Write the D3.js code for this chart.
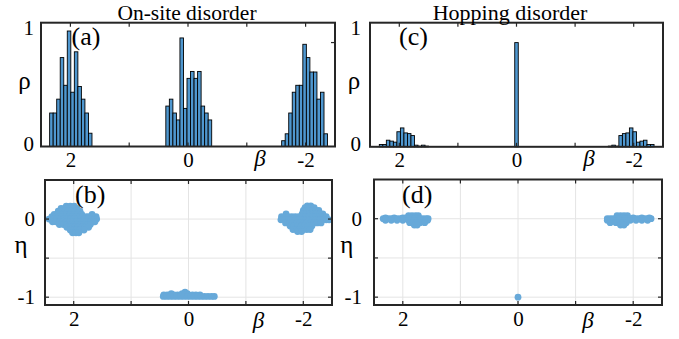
<!DOCTYPE html>
<html>
<head>
<meta charset="utf-8">
<script src="https://cdn.jsdelivr.net/npm/d3@7"></script>
<style>
  body { margin: 0; background: #fff; }
  svg { display: block; }
  text { font-family: "Liberation Serif", "Times New Roman", serif; fill: #000; }
</style>
</head>
<body>
<svg id="chart" width="679" height="339"></svg>
<script>
// ---------- data ----------
// histogram bins share one width; each cluster gives its first bin centre (largest beta) and heights
const binWidth = 0.06;

const onsiteLeftStart = 2.323;
const onsiteLeftHeights = [0.29, 0.29, 0.41, 0.77, 0.53, 1.0, 0.47, 0.82, 0.52, 0.41, 0.29, 0.115];
const onsiteMidStart = 0.347;
const onsiteMidHeights = [0.35, 0.41, 0.29, 0.23, 0.94, 0.33, 0.59, 0.65, 0.59, 0.65, 0.35, 0.29, 0.23];
const onsiteRightStart = -1.623;
const onsiteRightHeights = [0.05, 0.11, 0.29, 0.47, 0.53, 0.53, 0.885, 0.77, 0.645, 0.645, 0.41, 0.47, 0.11];

const hoppingLeftStart = 2.311;
const hoppingLeftHeights = [0.02, 0.02, 0.057, 0.049, 0.04, 0.13, 0.163, 0.12, 0.114, 0.097, 0.014, 0.006, 0.014, 0.006];
const hoppingMidStart = 0.0;
const hoppingMidHeights = [0.9];
const hoppingRightStart = -1.597;
const hoppingRightHeights = [0.006, 0.014, 0.006, 0.097, 0.114, 0.12, 0.163, 0.13, 0.04, 0.049, 0.057, 0.02, 0.02];

// eigenvalues (beta, eta), grouped in rows of similar eta: [eta, [beta, ...]]
const onsitePointsLeft = [
  [0.165, [2.13, 2.06, 1.99]],
  [0.135, [2.22, 2.16, 2.11, 2.05, 2.01, 1.94]],
  [0.10, [2.27, 2.21, 2.16, 2.1, 2.04, 1.98, 1.92, 1.89]],
  [0.06, [2.34, 2.27, 2.2, 2.13, 2.06, 1.99, 1.93, 1.86, 1.68]],
  [0.03, [2.38, 2.32, 2.26, 2.2, 2.14, 2.08, 2.02, 1.96, 1.9, 1.84, 1.78, 1.73, 1.66, 1.61]],
  [0.0, [2.43, 2.36, 2.3, 2.24, 2.18, 2.12, 2.06, 2.0, 1.94, 1.88, 1.82, 1.76, 1.7, 1.64, 1.6]],
  [-0.035, [2.37, 2.31, 2.25, 2.19, 2.13, 2.07, 2.01, 1.95, 1.89, 1.83, 1.77, 1.71, 1.66, 1.63]],
  [-0.07, [2.25, 2.18, 2.12, 2.06, 2.0, 1.94, 1.88, 1.82, 1.76, 1.71]],
  [-0.105, [2.12, 2.05, 1.99, 1.93, 1.86, 1.8, 1.74]],
  [-0.14, [2.06, 2.0, 1.95, 1.9, 1.82]],
  [-0.175, [2.02, 1.96, 1.91]]
];
const onsitePointsMid = [
  [-0.935, [0.06]],
  [-0.955, [0.11, 0.02, 0.3]],
  [-0.972, [0.43, 0.37, 0.31, 0.25, 0.19, 0.13, 0.07, 0.0, -0.07, -0.13, -0.2]],
  [-0.99, [0.44, 0.38, 0.32, 0.26, 0.2, 0.14, 0.08, 0.02, -0.04, -0.1, -0.16, -0.22, -0.28, -0.34, -0.4, -0.45]]
];
const onsitePointsRight = [
  [0.17, [-2.07, -2.13]],
  [0.145, [-2.03, -2.09, -2.14, -2.19]],
  [0.11, [-2.0, -2.05, -2.1, -2.16, -2.22, -2.27]],
  [0.065, [-1.7, -1.98, -2.04, -2.1, -2.16, -2.22, -2.28, -2.34]],
  [0.03, [-1.62, -1.68, -1.74, -1.8, -1.86, -1.92, -1.98, -2.04, -2.1, -2.16, -2.22, -2.28, -2.34, -2.4]],
  [-0.01, [-1.61, -1.68, -1.74, -1.8, -1.86, -1.92, -1.98, -2.04, -2.1, -2.16, -2.22, -2.28, -2.34, -2.4, -2.45]],
  [-0.05, [-1.69, -1.76, -1.82, -1.88, -1.94, -2.0, -2.06, -2.12, -2.18, -2.24, -2.31]],
  [-0.09, [-1.77, -1.84, -1.9, -1.96, -2.02, -2.08, -2.15]],
  [-0.135, [-1.82, -1.88, -1.94, -2.0, -2.06, -2.12]],
  [-0.16, [-1.9, -1.97]]
];

const hoppingPointsLeft = [
  [0.04, [1.9, 1.84, 1.78, 1.73]],
  [0.01, [2.3, 2.15, 2.0, 1.95]],
  [0.0, [2.34, 2.29, 2.24, 2.19, 2.14, 2.09, 2.04, 1.99, 1.94, 1.89, 1.84, 1.79, 1.74, 1.69, 1.64, 1.59, 1.56]],
  [-0.02, [2.3, 2.2, 2.1, 2.0, 1.9, 1.8, 1.7, 1.6, 1.57]],
  [-0.05, [1.88, 1.82, 1.76, 1.7, 1.62]],
  [-0.08, [1.8, 1.75]]
];
const hoppingPointsMid = [
  [-1.0, [0.0]]
];
const hoppingPointsRight = [
  [0.04, [-1.72, -1.78, -1.84, -1.9]],
  [0.01, [-2.0, -2.15, -2.28]],
  [0.0, [-1.55, -1.6, -1.65, -1.7, -1.75, -1.8, -1.85, -1.9, -1.95, -2.0, -2.05, -2.1, -2.15, -2.2, -2.25, -2.31]],
  [-0.02, [-1.55, -1.65, -1.75, -1.85, -1.95, -2.05, -2.15, -2.25]],
  [-0.05, [-1.6, -1.7, -1.76, -1.82, -1.88]],
  [-0.08, [-1.78, -1.84]]
];

const betaTicks = [2, 1, 0, -1, -2];
const betaTickLabels = [2, 0, -2];
const rhoLabels = [0, 1];
const rhoTicks = [0.9];
const etaTicks = [0, -0.5, -1];
const etaTickLabels = [0, -1];

const titles = ["On-site disorder", "Hopping disorder"];
const panelLetters = ["(a)", "(b)", "(c)", "(d)"];

// ---------- drawing ----------
const svg = d3.select("#chart");
const barFill = "#4f97cf";
const dotFill = "#67a9d9";
const frameColor = "#262626";

const bins = (start, heights) => heights.map((h, i) => ({ c: start - i * binWidth, h }));
const points = rows => rows.flatMap(([eta, betas]) => betas.map(b => ({ b, eta })));

function frameTicks(g, x, y, xt, yt, len) {
  const [x0, x1] = x.range();
  const [y0, y1] = y.range(); // y0 bottom, y1 top
  const t = g.append("g").attr("stroke", frameColor).attr("stroke-width", 1.2);
  xt.forEach(v => {
    t.append("line").attr("x1", x(v)).attr("x2", x(v)).attr("y1", y0).attr("y2", y0 - len);
    t.append("line").attr("x1", x(v)).attr("x2", x(v)).attr("y1", y1).attr("y2", y1 + len);
  });
  yt.forEach(v => {
    t.append("line").attr("x1", x0).attr("x2", x0 + len).attr("y1", y(v)).attr("y2", y(v));
    t.append("line").attr("x1", x1).attr("x2", x1 - len).attr("y1", y(v)).attr("y2", y(v));
  });
}

function box(g, x, y) {
  const [x0, x1] = x.range();
  const [y0, y1] = y.range();
  g.append("rect").attr("x", x0).attr("y", y1).attr("width", x1 - x0).attr("height", y0 - y1)
    .attr("fill", "none").attr("stroke", frameColor).attr("stroke-width", 2);
}

function xLabels(g, x, yBottom, pad) {
  const ax = d3.axisBottom(x).tickValues(betaTickLabels).tickSize(0).tickPadding(pad)
    .tickFormat(d => String(d));
  const a = g.append("g").attr("transform", `translate(0,${yBottom})`).call(ax);
  a.select(".domain").remove();
  a.selectAll("text").attr("font-size", 21);
}

function yLabels(g, y, xLeft, pad, vals, shift) {
  const ax = d3.axisLeft(y).tickValues(vals).tickSize(0).tickPadding(pad)
    .tickFormat(d => String(d));
  const a = g.append("g").attr("transform", `translate(${xLeft},0)`).call(ax);
  a.select(".domain").remove();
  a.selectAll("text").attr("font-size", 21).attr("transform", `translate(0,${shift})`);
}

function histPanel(cfg) {
  const g = svg.append("g");
  const x = d3.scaleLinear().domain([2.5, -2.5]).range([cfg.left, cfg.right]);
  const y = d3.scaleLinear().domain([0, 1.072]).range([cfg.bottom, cfg.top]);
  const data = cfg.clusters.flatMap(([s, h]) => bins(s, h));
  g.selectAll("rect.bar").data(data).join("rect").attr("class", "bar")
    .attr("x", d => x(d.c + binWidth / 2))
    .attr("width", d => x(d.c - binWidth / 2) - x(d.c + binWidth / 2))
    .attr("y", d => y(d.h))
    .attr("height", d => y(0) - y(d.h))
    .attr("fill", barFill).attr("stroke", "#000").attr("stroke-width", 0.9);
  frameTicks(g, x, y, betaTicks, [], 4);
  if (cfg.rightTicks) {
    rhoTicks.forEach(v => g.append("line").attr("x1", cfg.right).attr("x2", cfg.right - 4)
      .attr("y1", y(v)).attr("y2", y(v)).attr("stroke", frameColor).attr("stroke-width", 1.2));
  }
  box(g, x, y);
  xLabels(g, x, cfg.bottom, cfg.xPad);
  yLabels(g, y, cfg.left, cfg.yPad, rhoLabels, -3);
  return { g, x, y };
}

function scatterPanel(cfg) {
  const g = svg.append("g");
  const x = d3.scaleLinear().domain([2.5, -2.5]).range([cfg.left, cfg.right]);
  const y = d3.scaleLinear().domain([-1.1, 0.5]).range([cfg.bottom, cfg.top]);
  const grid = g.append("g").attr("stroke", "#e4e4e4").attr("stroke-width", 1);
  betaTicks.forEach(v => grid.append("line").attr("x1", x(v)).attr("x2", x(v))
    .attr("y1", cfg.top).attr("y2", cfg.bottom));
  etaTicks.forEach(v => grid.append("line").attr("x1", cfg.left).attr("x2", cfg.right)
    .attr("y1", y(v)).attr("y2", y(v)));
  const data = cfg.clouds.flatMap(points);
  g.selectAll("circle").data(data).join("circle")
    .attr("cx", d => x(d.b)).attr("cy", d => y(d.eta)).attr("r", 3.4)
    .attr("fill", dotFill);
  frameTicks(g, x, y, betaTicks, etaTicks, 4);
  box(g, x, y);
  xLabels(g, x, cfg.bottom, cfg.xPad);
  yLabels(g, y, cfg.left, cfg.yPad, etaTickLabels, 0);
  return { g, x, y };
}

histPanel({
  left: 41, right: 335, top: 22.7, bottom: 146.5, xPad: 5.5, yPad: 7, rightTicks: true,
  clusters: [[onsiteLeftStart, onsiteLeftHeights], [onsiteMidStart, onsiteMidHeights], [onsiteRightStart, onsiteRightHeights]]
});
histPanel({
  left: 370, right: 663, top: 22.7, bottom: 146.8, xPad: 5.5, yPad: 9, rightTicks: false,
  clusters: [[hoppingLeftStart, hoppingLeftHeights], [hoppingMidStart, hoppingMidHeights], [hoppingRightStart, hoppingRightHeights]]
});
scatterPanel({
  left: 45, right: 332, top: 180, bottom: 305, xPad: 6, yPad: 10,
  clouds: [onsitePointsLeft, onsitePointsMid, onsitePointsRight]
});
scatterPanel({
  left: 374, right: 662, top: 179.5, bottom: 305, xPad: 6, yPad: 12,
  clouds: [hoppingPointsLeft, hoppingPointsMid, hoppingPointsRight]
});

// titles
svg.append("text").attr("x", 187).attr("y", 19.5).attr("text-anchor", "middle")
  .attr("font-size", 21.5).text(titles[0]);
svg.append("text").attr("x", 510).attr("y", 19.5).attr("text-anchor", "middle")
  .attr("font-size", 22).text(titles[1]);

// panel letters
const letterPos = [[71.5, 45], [75, 203], [399, 45], [402, 203]];
panelLetters.forEach((t, i) => svg.append("text").attr("x", letterPos[i][0]).attr("y", letterPos[i][1])
  .attr("font-size", 26).text(t));

// axis symbols
const rhoPos = [[24.5, 89], [354, 89]];
rhoPos.forEach(p => svg.append("text").attr("x", p[0]).attr("y", p[1]).attr("text-anchor", "middle")
  .attr("font-size", 25).text("ρ"));
const etaPos = [[21, 252.5], [346.7, 252.5]];
etaPos.forEach(p => svg.append("text").attr("x", p[0]).attr("y", p[1]).attr("text-anchor", "middle")
  .attr("font-size", 25).text("η"));
const betaPos = [[260, 165.5], [589, 165.5], [258.5, 328], [588, 328]];
betaPos.forEach(p => svg.append("text").attr("x", p[0]).attr("y", p[1]).attr("text-anchor", "middle")
  .attr("font-size", 23).attr("font-style", "italic").text("β"));
</script>
</body>
</html>
